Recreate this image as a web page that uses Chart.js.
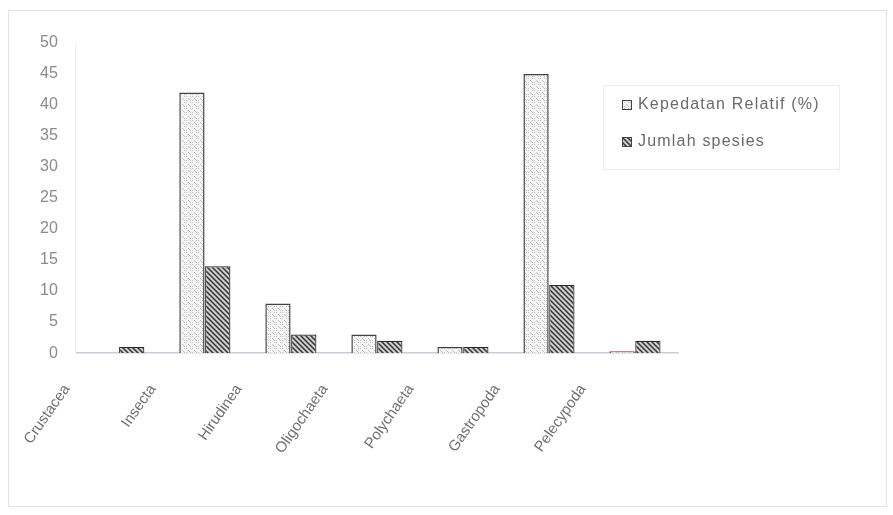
<!DOCTYPE html>
<html lang="id">
<head>
	<meta charset="UTF-8">
	<title>kepadatan relatif makrozoobentos</title>
	<script src="https://cdn.jsdelivr.net/npm/chart.js@4.4.1/dist/chart.umd.min.js"></script>
	<style>
		html, body { margin: 0; padding: 0; background: #fff; }
	</style>
</head>
<body>
	<canvas id="myChart" width="893" height="515"></canvas>
<script>
	// data
	const taxa = ['Crustacea', 'Insecta', 'Hirudinea', 'Oligochaeta', 'Polychaeta', 'Gastropoda', 'Pelecypoda'];
	const kepadatan = [0, 42, 8, 3, 1, 45, 0.3];
	const spesies = [1, 14, 3, 2, 1, 11, 2];
	const seriesNames = ['Kepedatan Relatif (%)', 'Jumlah spesies'];
	const yMax = 50;
	const yStep = 5;

	const canvas = document.getElementById('myChart');
	const ctx = canvas.getContext('2d');
	const fontFam = '"Liberation Sans", Arial, sans-serif';

	// pola titik abu-abu muda
	function dotPattern() {
		const c = document.createElement('canvas');
		c.width = 6; c.height = 6;
		const g = c.getContext('2d');
		g.fillStyle = '#f4f4f4';
		g.fillRect(0, 0, 6, 6);
		g.fillStyle = '#c2c2c2';
		g.fillRect(0, 0, 1, 1);
		g.fillRect(2, 2, 1, 1);
		g.fillRect(4, 0, 1, 1);
		g.fillRect(3, 3, 1, 1);
		g.fillRect(0, 4, 1, 1);
		g.fillRect(4, 4, 1, 1);
		return ctx.createPattern(c, 'repeat');
	}
	// pola arsir diagonal
	function hatchPattern() {
		const c = document.createElement('canvas');
		c.width = 5; c.height = 5;
		const g = c.getContext('2d');
		g.fillStyle = '#cfcfcf';
		g.fillRect(0, 0, 5, 5);
		g.strokeStyle = '#333';
		g.lineWidth = 1.5;
		g.beginPath();
		g.moveTo(-1, -1); g.lineTo(6, 6);
		g.moveTo(-1, 4); g.lineTo(1, 6);
		g.moveTo(4, -1); g.lineTo(6, 1);
		g.stroke();
		return ctx.createPattern(c, 'repeat');
	}

	const frame = {
		id: 'frame',
		beforeDraw(chart) {
			const c = chart.ctx;
			c.save();
			c.fillStyle = '#fff';
			c.fillRect(0, 0, chart.width, chart.height);
			c.strokeStyle = '#e2e2e2';
			c.lineWidth = 1;
			c.strokeRect(8.5, 10.5, 878, 496);
			c.restore();
		}
	};

	const boxLegend = {
		id: 'boxLegend',
		afterDraw(chart) {
			const c = chart.ctx;
			c.save();
			c.strokeStyle = '#ececec';
			c.strokeRect(603.5, 85.5, 236, 84);
			c.font = '16px ' + fontFam;
			c.letterSpacing = '1.2px';
			c.textBaseline = 'middle';
			chart.data.datasets.forEach((ds, i) => {
				const y = 105 + i * 37;
				c.fillStyle = ds.backgroundColor;
				c.fillRect(622, y - 5, 10, 10);
				c.strokeStyle = '#444';
				c.strokeRect(622.5, y - 4.5, 9, 9);
				c.fillStyle = '#6a6a6a';
				c.fillText(ds.label, 638, y);
			});
			c.restore();
		}
	};

	const borders1 = taxa.map((t, i) => i === taxa.length - 1 ? '#9b2a2a' : '#444');

	new Chart(ctx, {
		type: 'bar',
		data: {
			labels: taxa,
			datasets: [
				{
					label: seriesNames[0],
					data: kepadatan,
					backgroundColor: dotPattern(),
					borderColor: borders1,
					borderWidth: 1.5
				},
				{
					label: seriesNames[1],
					data: spesies,
					backgroundColor: hatchPattern(),
					borderColor: '#2a2a2a',
					borderWidth: 1.2
				}
			]
		},
		options: {
			responsive: false,
			animation: false,
			categoryPercentage: 0.6,
			barPercentage: 0.98,
			layout: { padding: { left: 30, top: 43, right: 215, bottom: 38 } },
			plugins: {
				legend: { display: false },
				tooltip: { enabled: false }
			},
			scales: {
				x: {
					grid: { display: false },
					border: { display: true, color: '#c9cdd9', width: 1.5 },
					ticks: {
						color: '#707070',
						maxRotation: 55,
						minRotation: 55,
						padding: 20,
						labelOffset: -52,
						font: { family: fontFam, size: 15 }
					}
				},
				y: {
					min: 0,
					max: yMax,
					grid: { display: false },
					border: { display: true, color: '#f0f0f0' },
					ticks: {
						stepSize: yStep,
						color: '#8a8a8a',
						padding: 10,
						font: { family: fontFam, size: 16 }
					}
				}
			}
		},
		plugins: [frame, boxLegend]
	});
</script>
</body>
</html>
